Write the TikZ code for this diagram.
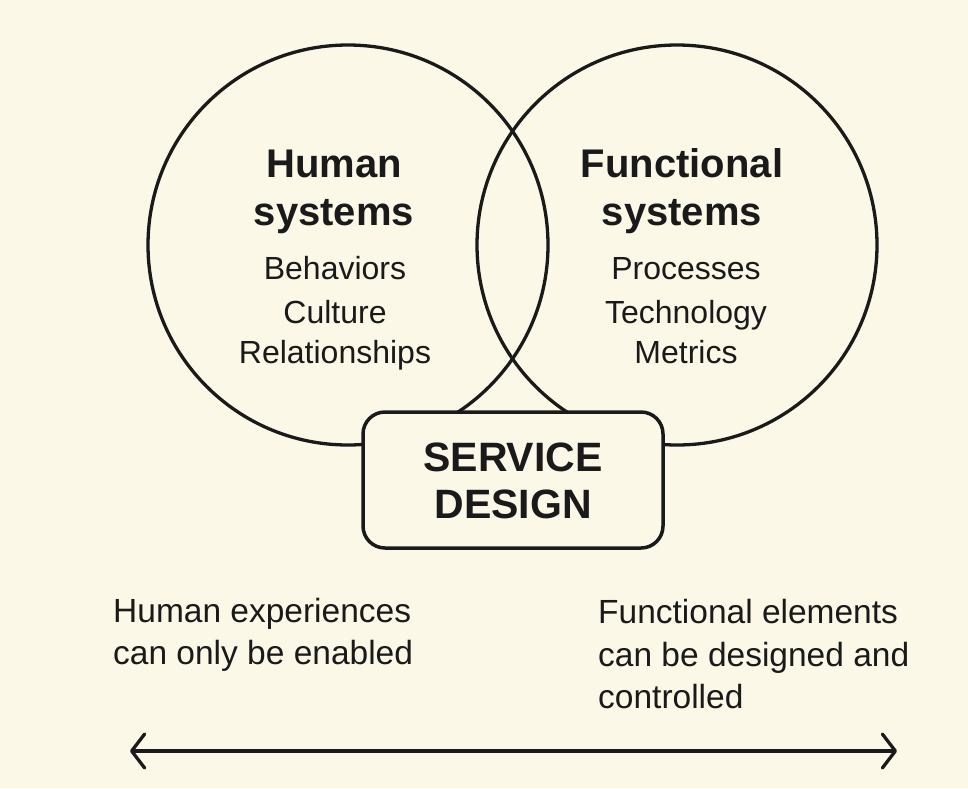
\documentclass[tikz,border=0pt]{standalone}
\usepackage{fontspec}
\setmainfont{Liberation Sans}
\usetikzlibrary{arrows.meta}
\definecolor{bgcream}{HTML}{FCF8E7}
\definecolor{ink}{HTML}{1A1A1A}
\tikzset{
  ring/.style={draw=ink,line width=3.3pt},
  headtxt/.style={anchor=base,inner sep=0pt,text=ink,font=\fontsize{40}{48}\selectfont\bfseries},
  bodytxt/.style={anchor=base,inner sep=0pt,text=ink,font=\fontsize{32}{43}\selectfont},
  notetxt/.style={anchor=base west,inner sep=0pt,text=ink,font=\fontsize{33.5}{42}\selectfont},
  corebox/.style={draw=ink,line width=3.5pt,fill=bgcream,rounded corners=22pt},
  coretxt/.style={anchor=base,inner sep=0pt,text=ink,font=\fontsize{41}{47}\selectfont\bfseries},
  scalearrow/.style={draw=ink,line width=3.3pt,line cap=round,
    {Straight Barb[length=13pt,width=34pt,line width=3.3pt,round]}-{Straight Barb[length=13pt,width=34pt,line width=3.3pt,round]}}
}
\begin{document}
\begin{tikzpicture}[x=1pt,y=-1pt]
\fill[bgcream] (0,0) rectangle (968,788);
\useasboundingbox (0,0) rectangle (968,788);
% circles
\node[ring,circle,minimum size=400pt,inner sep=0pt] (human) at (348,245) {};
\node[ring,circle,minimum size=400pt,inner sep=0pt] (func) at (677,245) {};
% left circle text
\node[headtxt] (h1) at (334,177) {Human};
\node[headtxt] (h2) at (334,225) {systems};
\node[bodytxt] (b1) at (335,279) {Behaviors};
\node[bodytxt] (b2) at (335,323) {Culture};
\node[bodytxt] (b3) at (335,363) {Relationships};
% right circle text
\node[headtxt] (f1) at (682,177) {Functional};
\node[headtxt] (f2) at (682,225) {systems};
\node[bodytxt] (p1) at (686,279) {Processes};
\node[bodytxt] (p2) at (686,323) {Technology};
\node[bodytxt] (p3) at (686,363) {Metrics};
% service design box
\draw[corebox] (363,412) rectangle (663,548);
\node[coretxt] (s1) at (513,471) {SERVICE};
\node[coretxt] (s2) at (513,518) {DESIGN};
% bottom notes
\node[notetxt] (l1) at (113,622) {Human experiences};
\node[notetxt] (l2) at (113,664) {can only be enabled};
\node[notetxt] (r1) at (598,623) {Functional elements};
\node[notetxt] (r2) at (598,666) {can be designed and};
\node[notetxt] (r3) at (598,708) {controlled};
% scale arrow
\coordinate (aleft) at (130,751);
\coordinate (aright) at (897,751);
\draw[scalearrow] (aleft) -- (aright);
\end{tikzpicture}
\end{document}
